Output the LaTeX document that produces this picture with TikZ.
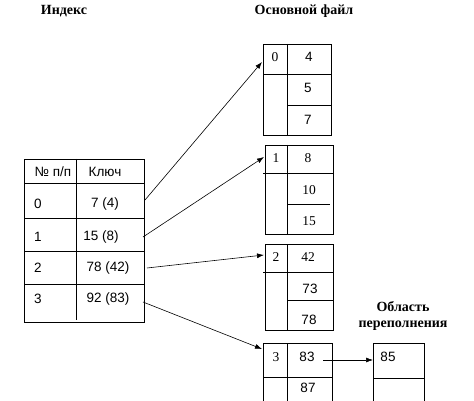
\documentclass[tikz,border=0pt]{standalone}
\usepackage{fontspec}
\setmainfont{Liberation Serif}
\setsansfont{Liberation Sans}
\usetikzlibrary{arrows.meta}

\begin{document}
\begin{tikzpicture}
  [x=1pt, y=-1pt,
   title/.style={font=\fontsize{14}{16}\selectfont\bfseries},
   num/.style={font=\fontsize{13.5}{16}\selectfont\sffamily, inner sep=0pt},
   rnum/.style={font=\fontsize{13.5}{16}\selectfont, inner sep=0pt},
   box/.style={line width=0.8pt},
   ptr/.style={-{Latex[length=7pt,width=5pt]}, line width=0.6pt}]
  \useasboundingbox (0,0) rectangle (474,401);
  % titles
  \node[title] (tidx) at (64,11) {Индекс};
  \node[title] (tmain) at (304,11) {Основной файл};
  \node[title, align=center] (tover) at (403,316) {Область\\переполнения};
  % index table
  \draw[box] (24,159) rectangle (144,322);
  \draw[box] (76,159) -- (76,320);
  \foreach \y in {183,218,251,284}
    \draw[box] (24,\y) -- (144,\y);
  \node[num] (hno) at (53,172) {№ п/п};
  \node[num] (hkey) at (105,172) {Ключ};
  \node[num] (n0) at (38,204) {0};
  \node[num] (k0) at (105,204) {7 (4)};
  \node[num] (n1) at (38,237) {1};
  \node[num] (k1) at (101,237) {15 (8)};
  \node[num] (n2) at (38,268) {2};
  \node[num] (k2) at (108,268) {78 (42)};
  \node[num] (n3) at (38,299) {3};
  \node[num] (k3) at (108,299) {92 (83)};
  % main file blocks
  \draw[box] (263,44) rectangle (331,135);
  \draw[box] (287,44) -- (287,135) (263,74) -- (331,74) (287,105) -- (331,105);
  \draw[box] (265,145) rectangle (333,234);
  \draw[box] (287,145) -- (287,234) (263,173) -- (333,173) (287,204) -- (330,204);
  \draw[box] (265,244) rectangle (333,330);
  \draw[box] (287,244) -- (287,330) (263,272) -- (333,272) (287,300) -- (333,300);
  \draw[box] (263,401) -- (263,343) -- (332,343) -- (332,401);
  \draw[box] (287,343) -- (287,401) (263,377) -- (332,377);
  % overflow area
  \draw[box] (373,401) -- (373,343) -- (424,343) -- (424,401);
  \draw[box] (373,378) -- (424,378);
  \node[rnum] (b0) at (275,57) {0};
  \node[num] (v4) at (309,57) {4};
  \node[num] (v5) at (308,88) {5};
  \node[num] (v7) at (308,120) {7};
  \node[rnum] (b1) at (276,158) {1};
  \node[rnum] (v8) at (308,158) {8};
  \node[rnum] (v10) at (309,190) {10};
  \node[rnum] (v15) at (309,221) {15};
  \node[rnum] (b2) at (276,257) {2};
  \node[rnum] (v42) at (308,257) {42};
  \node[num] (v73) at (310,289) {73};
  \node[num] (v78) at (309,320) {78};
  \node[rnum] (b3) at (276,357) {3};
  \node[num] (v83) at (307,357) {83};
  \node[num] (v87) at (308,388) {87};
  \node[num] (v85) at (388,357) {85};
  % pointers
  \coordinate (p0) at (145,200);
  \coordinate (q0) at (262,62);
  \coordinate (p1) at (143,237);
  \coordinate (q1) at (264,157);
  \coordinate (p2) at (147,268);
  \coordinate (q2) at (264,255);
  \coordinate (p3) at (143,302);
  \coordinate (q3) at (262,349);
  \coordinate (p4) at (323,360);
  \coordinate (q4) at (373,360);
  \draw[ptr] (p0) -- (q0);
  \draw[ptr] (p1) -- (q1);
  \draw[ptr] (p2) -- (q2);
  \draw[ptr] (p3) -- (q3);
  \draw[ptr] (p4) -- (q4);
\end{tikzpicture}
\end{document}
